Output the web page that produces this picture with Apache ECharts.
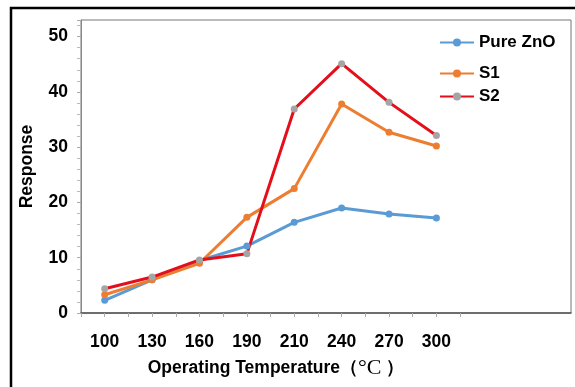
<!DOCTYPE html>
<html>
<head>
<meta charset="utf-8">
<script src="https://cdn.jsdelivr.net/npm/echarts@6/dist/echarts.min.js"></script>
<style>
  html, body { margin: 0; padding: 0; background: #fff; }
  #chart { width: 575px; height: 387px; }
</style>
</head>
<body>
<div id="chart"></div>
<script>
// temperature labels (evenly spaced, as in the original figure)
const temps = ['100', '130', '160', '190', '210', '240', '270', '300'];
const pureZnO = [2.3, 6.0, 9.5, 12.1, 16.4, 19.0, 17.9, 17.2];
const s1 = [3.3, 6.0, 9.0, 17.3, 22.5, 37.8, 32.7, 30.2];
const s2 = [4.4, 6.5, 9.6, 10.7, 36.9, 45.1, 38.1, 32.1];

const toPoints = arr => arr.map((v, i) => [i, v]);
const labelIdx = temps.map((t, i) => i);
const tickIdx = [];
for (let i = -0.5; i <= temps.length - 0.5; i += 0.5) tickIdx.push(i);

const font = '"Liberation Sans", Arial, sans-serif';
const fs = 17.5;

const chart = echarts.init(document.getElementById('chart'));

const lineSeries = (name, data, color, markerColor) => ({
    name: name,
    type: 'line',
    data: toPoints(data),
    symbol: 'circle',
    symbolSize: 7,
    lineStyle: { color: color, width: 3 },
    itemStyle: { color: markerColor || color },
    emphasis: { disabled: true }
});

const legendText = { fontFamily: font, fontWeight: 'bold', fontSize: 17, color: '#000' };

chart.setOption({
    animation: false,
    graphic: [{
        type: 'rect',
        shape: { x: 11, y: 8, width: 620, height: 420 },
        style: { fill: 'none', stroke: '#000', lineWidth: 2.5 },
        silent: true
    }],
    legend: [
        {
            data: ['Pure ZnO'],
            orient: 'vertical',
            left: 434,
            top: 29,
            itemWidth: 34,
            itemHeight: 10,
            textStyle: legendText
        },
        {
            data: ['S1', 'S2'],
            orient: 'vertical',
            left: 434,
            top: 60,
            itemGap: 6,
            itemWidth: 34,
            itemHeight: 10,
            textStyle: legendText
        }
    ],
    grid: {
        left: 81,
        top: 20,
        right: 4,
        bottom: 74,
        show: true,
        borderColor: '#777',
        borderWidth: 1
    },
    xAxis: {
        type: 'value',
        min: -0.5,
        max: 9.84,
        name: '{a|Operating Temperature（}{b|°C}{a| ）}',
        nameLocation: 'middle',
        nameGap: 44,
        nameTextStyle: {
            padding: [0, 100, 0, 0],
            rich: {
                a: { fontFamily: font, fontWeight: 'bold', fontSize: fs, color: '#000' },
                b: { fontFamily: '"Liberation Serif", "Times New Roman", serif', fontSize: 22, color: '#000' }
            }
        },
        axisLine: { lineStyle: { color: '#555', width: 1.5 } },
        axisTick: { customValues: tickIdx, length: 4, lineStyle: { color: '#aaa' } },
        axisLabel: {
            customValues: labelIdx,
            formatter: v => temps[Math.round(v)],
            margin: 20,
            fontFamily: font,
            fontWeight: 'bold',
            fontSize: fs,
            color: '#000'
        },
        splitLine: { show: false }
    },
    yAxis: {
        type: 'value',
        min: 0,
        max: 53,
        interval: 10,
        name: 'Response',
        nameLocation: 'middle',
        nameGap: 45,
        nameTextStyle: { fontFamily: font, fontWeight: 'bold', fontSize: fs, color: '#000' },
        axisLine: { show: true, onZero: false, lineStyle: { color: '#888' } },
        axisTick: { show: true, length: 4, lineStyle: { color: '#aaa' } },
        minorTick: { show: true, splitNumber: 5, length: 4, lineStyle: { color: '#bbb' } },
        axisLabel: {
            margin: 13,
            fontFamily: font,
            fontWeight: 'bold',
            fontSize: fs,
            color: '#000',
            showMaxLabel: false
        },
        splitLine: { show: false }
    },
    series: [
        lineSeries('Pure ZnO', pureZnO, '#5B9BD5'),
        lineSeries('S1', s1, '#ED7D31'),
        lineSeries('S2', s2, '#E3101C', '#A5A5A5')
    ]
});
</script>
</body>
</html>
